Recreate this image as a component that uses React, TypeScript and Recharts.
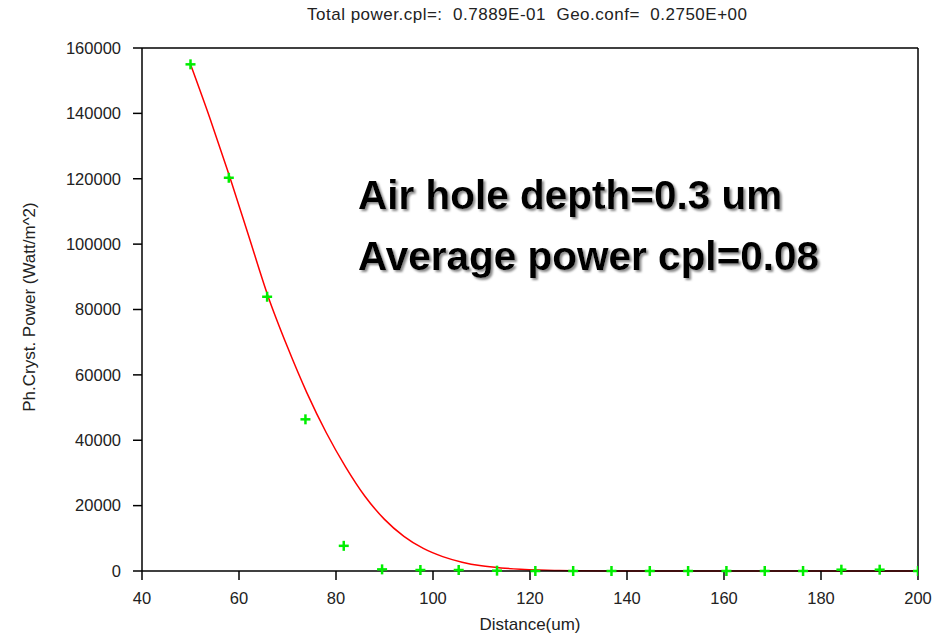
import React from 'react';
import { ComposedChart, XAxis, YAxis, Line, Scatter } from 'recharts';

// measured points (green crosses)
const distance = [50, 57.9, 65.8, 73.7, 81.6, 89.5, 97.4, 105.3, 113.2, 121.1, 128.9, 136.8, 144.7, 152.6, 160.5, 168.4, 176.3, 184.2, 192.1, 200];
const power = [155000, 120300, 83900, 46400, 7700, 500, 300, 300, 100, 0, 0, 0, 0, 0, 0, 0, 0, 400, 400, 0];

// fitted curve (red)
const fitDistance = [50, 54, 58, 62, 66, 70, 74, 78, 82, 86, 90, 94, 98, 102, 106, 110, 114, 118, 122, 126, 130, 140, 150, 160, 170, 180, 190, 200];
const fitPower = [155000, 138500, 121000, 102500, 84000, 68500, 54500, 42300, 31800, 22800, 15800, 10600, 6900, 4400, 2700, 1600, 950, 550, 300, 160, 80, 15, 0, 0, 0, 0, 0, 0];

const xTicks = [40, 60, 80, 100, 120, 140, 160, 180, 200];
const yTicks = [0, 20000, 40000, 60000, 80000, 100000, 120000, 140000, 160000];

const title = 'Total power.cpl=:  0.7889E-01  Geo.conf=  0.2750E+00';
const notes = ['Air hole depth=0.3 um', 'Average power cpl=0.08'];

const points = distance.map((d, i) => ({ x: d, y: power[i] }));
const fit = fitDistance.map((d, i) => ({ x: d, y: fitPower[i] }));

const font = '"Liberation Sans", Arial, sans-serif';
const axisColor = '#000';

const Plus = (props: any) => {
  const { cx, cy } = props;
  if (cx == null || cy == null) return null;
  return (
    <g stroke="#00ee00" strokeWidth={2.5}>
      <line x1={cx - 5} y1={cy} x2={cx + 5} y2={cy} />
      <line x1={cx} y1={cy - 5} x2={cx} y2={cy + 5} />
    </g>
  );
};

export default function App() {
  const tickStyle = { fill: '#222', fontSize: 16.5, fontFamily: font };
  return (
    <div style={{ position: 'absolute', left: 0, top: 0, background: '#fff' }}>
      <ComposedChart width={943} height={636} margin={{ top: 38, right: 15, bottom: 35, left: 0 }}>
        <defs>
          <filter id="noteShadow" x="-5%" y="-20%" width="110%" height="150%">
            <feDropShadow dx={2} dy={2} stdDeviation={0.8} floodColor="#888" floodOpacity={1} />
          </filter>
        </defs>
        <XAxis
          xAxisId="b"
          dataKey="x"
          type="number"
          domain={[40, 200]}
          ticks={xTicks}
          allowDataOverflow
          height={30}
          tickSize={9}
          tickMargin={12}
          tick={tickStyle}
          stroke={axisColor}
          strokeWidth={1.5}
        />
        <XAxis
          xAxisId="t"
          orientation="top"
          dataKey="x"
          type="number"
          domain={[40, 200]}
          ticks={xTicks}
          height={10}
          tickSize={9}
          tickFormatter={() => ''}
          stroke={axisColor}
          strokeWidth={1.5}
        />
        <YAxis
          yAxisId="l"
          type="number"
          domain={[0, 160000]}
          ticks={yTicks}
          width={142}
          tickSize={9}
          tickMargin={12}
          tick={tickStyle}
          stroke={axisColor}
          strokeWidth={1.5}
        />
        <YAxis
          yAxisId="r"
          orientation="right"
          type="number"
          domain={[0, 160000]}
          ticks={yTicks}
          width={10}
          tickSize={9}
          tickFormatter={() => ''}
          stroke={axisColor}
          strokeWidth={1.5}
        />
        <Line
          xAxisId="b"
          yAxisId="l"
          data={fit}
          dataKey="y"
          type="monotone"
          stroke="#ff0000"
          strokeWidth={1.5}
          dot={false}
          isAnimationActive={false}
        />
        <Scatter
          xAxisId="b"
          yAxisId="l"
          data={points}
          dataKey="y"
          shape={<Plus />}
          isAnimationActive={false}
        />
        <text
          x={527}
          y={20}
          textAnchor="middle"
          fontSize={17}
          fontFamily={font}
          fill="#222"
          textLength={440}
          lengthAdjust="spacing"
          style={{ whiteSpace: 'pre' }}
        >
          {title}
        </text>
        <text
          x={29}
          y={307}
          transform="rotate(-90 29 307)"
          textAnchor="middle"
          dominantBaseline="central"
          fontSize={17}
          fontFamily={font}
          fill="#222"
        >
          Ph.Cryst. Power (Watt/m^2)
        </text>
        <text x={530} y={630} textAnchor="middle" fontSize={17} fontFamily={font} fill="#222">
          Distance(um)
        </text>
        {notes.map((n, i) => (
          <text
            key={n}
            x={358}
            y={209 + i * 61}
            fontSize={40.5}
            fontWeight="bold"
            fontFamily={font}
            fill="#000"
            filter="url(#noteShadow)"
          >
            {n}
          </text>
        ))}
      </ComposedChart>
    </div>
  );
}
